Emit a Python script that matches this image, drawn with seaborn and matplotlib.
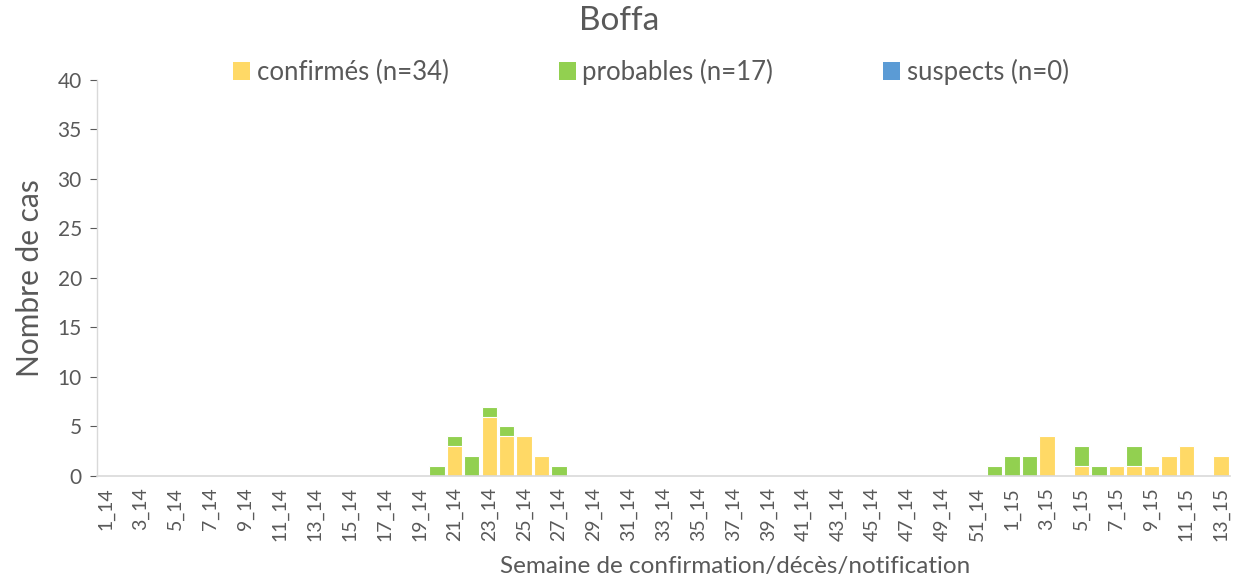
import matplotlib
matplotlib.use("Agg")
import matplotlib.pyplot as plt
import seaborn as sns
import pandas as pd
from matplotlib.patches import Patch

weeks = [f"{i}_14" for i in range(1, 53)] + [f"{i}_15" for i in range(1, 14)]

confirmes_vals = {
    "21_14": 3, "23_14": 6, "24_14": 4, "25_14": 4, "26_14": 2,
    "3_15": 4, "5_15": 1, "7_15": 1, "8_15": 1, "9_15": 1,
    "10_15": 2, "11_15": 3, "13_15": 2,
}
probables_vals = {
    "20_14": 1, "21_14": 1, "22_14": 2, "23_14": 1, "24_14": 1, "27_14": 1,
    "52_14": 1, "1_15": 2, "2_15": 2, "5_15": 2, "6_15": 1, "8_15": 2,
}
suspects_vals = {}

confirmes = [confirmes_vals.get(w, 0) for w in weeks]
probables = [probables_vals.get(w, 0) for w in weeks]
suspects = [suspects_vals.get(w, 0) for w in weeks]

df = pd.DataFrame({"semaine": weeks, "confirmes": confirmes,
                   "probables": probables, "suspects": suspects})
df["total_cp"] = df["confirmes"] + df["probables"]
df["total"] = df["total_cp"] + df["suspects"]

C_YEL = "#FFD966"
C_GRN = "#92D050"
C_BLU = "#5B9BD5"
GREY = "#595959"

sns.set_theme(style="white")
plt.rcParams["font.family"] = ["Lato", "DejaVu Sans"]

fig = plt.figure(figsize=(12.38, 5.79), dpi=100)
ax = fig.add_axes([0.0784, 0.178, 0.915, 0.684])

sns.barplot(data=df, x="semaine", y="total", color=C_BLU, order=weeks,
            width=0.88, edgecolor="white", linewidth=0.8, ax=ax, saturation=1)
sns.barplot(data=df, x="semaine", y="total_cp", color=C_GRN, order=weeks,
            width=0.88, edgecolor="white", linewidth=0.8, ax=ax, saturation=1)
sns.barplot(data=df, x="semaine", y="confirmes", color=C_YEL, order=weeks,
            width=0.88, edgecolor="white", linewidth=0.8, ax=ax, saturation=1)

ax.set_ylim(0, 40)
ax.set_yticks(range(0, 41, 5))
ax.set_xlim(-0.5, len(weeks) - 0.5)
ax.set_xticks(range(0, len(weeks), 2))
ax.set_xticklabels([weeks[i] for i in range(0, len(weeks), 2)], rotation=90)
ax.tick_params(axis="x", labelsize=14, colors=GREY, length=0, pad=8)
ax.tick_params(axis="y", labelsize=15, colors=GREY, length=5, width=0.8,
               left=True, direction="out", pad=6)
for lbl in ax.get_xticklabels() + ax.get_yticklabels():
    lbl.set_color(GREY)

for s in ["top", "right"]:
    ax.spines[s].set_visible(False)
ax.spines["left"].set_color("#D9D9D9")
ax.spines["bottom"].set_color("#D9D9D9")
ax.spines["left"].set_linewidth(1)
ax.spines["bottom"].set_linewidth(1.2)

ax.set_xlabel("Semaine de confirmation/décès/notification", fontsize=17.5,
              color=GREY)
ax.xaxis.set_label_coords(0.563, -0.203)
ax.set_ylabel("Nombre de cas", fontsize=21.5, color=GREY, labelpad=10)
fig.suptitle("Boffa", x=0.5, y=0.99, fontsize=24, color=GREY)

handles = [Patch(facecolor=C_YEL, edgecolor="none"),
           Patch(facecolor=C_GRN, edgecolor="none"),
           Patch(facecolor=C_BLU, edgecolor="none")]
labels = [f"confirmés (n={sum(confirmes)})",
          f"probables (n={sum(probables)})",
          f"suspects (n={sum(suspects)})"]
leg = ax.legend(handles, labels, ncol=3, loc="center",
                bbox_to_anchor=(0.489, 1.02), frameon=False,
                fontsize=18.5, handlelength=0.65, handleheight=0.75,
                handletextpad=0.25, columnspacing=4.3)
for t in leg.get_texts():
    t.set_color(GREY)

fig.savefig("out.png", dpi=100)
